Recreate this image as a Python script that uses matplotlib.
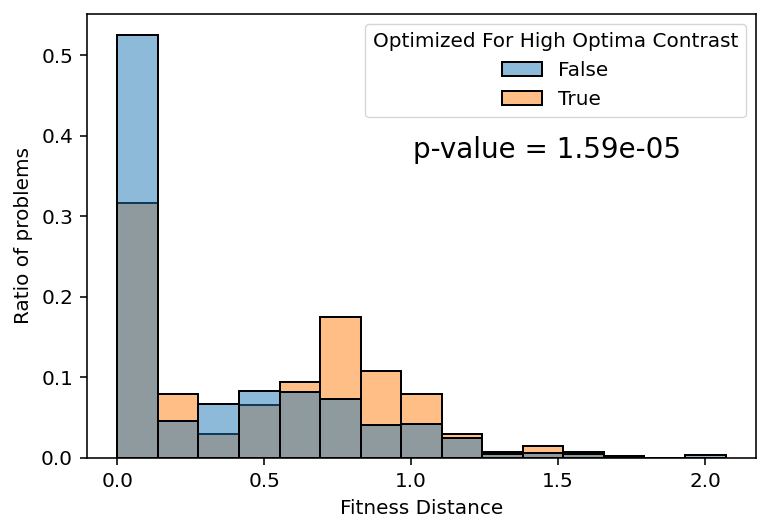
import numpy as np
import matplotlib
matplotlib.use("Agg")
import matplotlib.pyplot as plt
from matplotlib.patches import Patch
from matplotlib.colors import to_rgba

# histogram bins (fitness distance), 15 equal bins
bin_edges = np.linspace(0.0, 2.07, 16)
bin_centers = (bin_edges[:-1] + bin_edges[1:]) / 2

# ratio of problems per bin
ratio_false = [0.525, 0.046, 0.067, 0.0836, 0.082, 0.073, 0.041, 0.0426,
               0.025, 0.005, 0.0066, 0.0045, 0.002, 0.0, 0.004]
ratio_true = [0.317, 0.080, 0.030, 0.066, 0.0948, 0.175, 0.108, 0.080,
              0.030, 0.0075, 0.0149, 0.0075, 0.002, 0.0, 0.0]

hue_title = 'Optimized For High Optima Contrast'
p_value = 1.59e-05

FS = 14.4
LW = 1.44
blue = to_rgba('#1f77b4', 0.5)
orange = to_rgba('#ff7f0e', 0.5)

plt.rcParams['font.family'] = ['DejaVu Sans']
fig = plt.figure(figsize=(7.71, 5.32), dpi=100)
ax = fig.add_axes([0.1128, 0.1391, 0.8677, 0.8346])

# True drawn first, False on top (seaborn order)
ax.hist(bin_centers, bins=bin_edges, weights=ratio_true, color=orange,
        edgecolor='none')
ax.hist(bin_centers, bins=bin_edges, weights=ratio_true, histtype='bar',
        facecolor='none', edgecolor='black', linewidth=LW)
ax.hist(bin_centers, bins=bin_edges, weights=ratio_false, color=blue,
        edgecolor='none')
ax.hist(bin_centers, bins=bin_edges, weights=ratio_false, histtype='bar',
        facecolor='none', edgecolor='black', linewidth=LW)

ax.set_xlim(-0.1035, 2.1735)
ax.set_ylim(0, 0.551)
ax.set_xticks([0.0, 0.5, 1.0, 1.5, 2.0])
ax.set_yticks([0.0, 0.1, 0.2, 0.3, 0.4, 0.5])
ax.tick_params(labelsize=FS, width=1.15, length=5, pad=5)
for s in ax.spines.values():
    s.set_linewidth(1.15)
ax.set_xlabel('Fitness Distance', fontsize=FS, labelpad=5.8)
ax.set_ylabel('Ratio of problems', fontsize=FS, labelpad=5.8)

leg_handles = [Patch(facecolor=blue, edgecolor='black', linewidth=LW),
               Patch(facecolor=orange, edgecolor='black', linewidth=LW)]
ax.legend(leg_handles, ['False', 'True'], title=hue_title, loc='upper right',
          fontsize=FS, title_fontsize=FS)

ax.text(0.688, 0.694, f'p-value = {p_value:.2e}', transform=ax.transAxes,
        ha='center', va='center', fontsize=20)

fig.savefig('out.png', dpi=100)
